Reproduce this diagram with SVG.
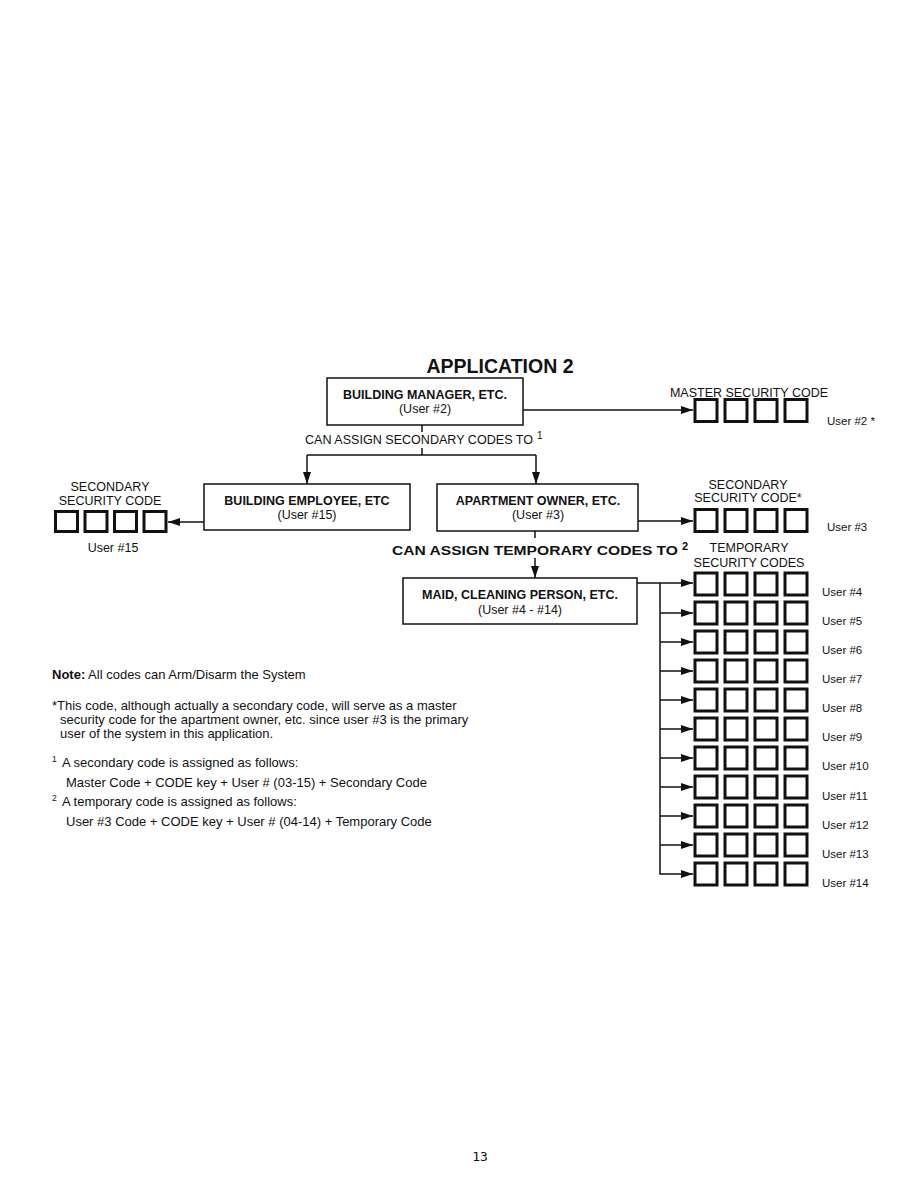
<svg xmlns="http://www.w3.org/2000/svg" width="918" height="1188" viewBox="0 0 918 1188">
<style>
text{font-family:"Liberation Sans",Arial,sans-serif;fill:#111}
.t{font-size:12.5px}
.n{font-size:13px}
.b{font-weight:bold}
.box{fill:#fff;stroke:#111;stroke-width:1.5}
.sq{fill:#fff;stroke:#111;stroke-width:3}
.ln{fill:none;stroke:#111;stroke-width:1.5}
.ar{fill:none;stroke:#111;stroke-width:1.5;marker-end:url(#ah)}
</style>
<defs>
<marker id="ah" markerUnits="userSpaceOnUse" markerWidth="12" markerHeight="8" refX="12" refY="4" orient="auto">
<path d="M0,0 L12,4 L0,8 z" fill="#111"/>
</marker>
<g id="code4">
<rect class="sq" x="0" y="0" width="22" height="22"/>
<rect class="sq" x="30" y="0" width="22" height="22"/>
<rect class="sq" x="60" y="0" width="22" height="22"/>
<rect class="sq" x="90" y="0" width="22" height="22"/>
</g>
</defs>
<rect width="918" height="1188" fill="#fff"/>

<text x="500" y="373" text-anchor="middle" class="b" style="font-size:19.5px">APPLICATION 2</text>

<g id="connectors">
<line class="ar" x1="523" y1="410" x2="693" y2="410"/>
<line class="ln" x1="422" y1="425" x2="422" y2="432"/>
<line class="ln" x1="422" y1="448" x2="422" y2="455"/>
<polyline class="ln" points="307,455 536,455"/>
<line class="ar" x1="307" y1="455" x2="307" y2="484"/>
<line class="ar" x1="536" y1="455" x2="536" y2="484"/>
<line class="ar" x1="204" y1="522" x2="168" y2="522"/>
<line class="ar" x1="638" y1="521" x2="693" y2="521"/>
<line class="ln" x1="535" y1="531" x2="535" y2="538"/>
<line class="ar" x1="535" y1="558" x2="535" y2="578"/>
<line class="ar" x1="637" y1="583" x2="693" y2="583"/>
<line class="ar" x1="660" y1="613" x2="693" y2="613"/>
<line class="ar" x1="660" y1="642" x2="693" y2="642"/>
<line class="ar" x1="660" y1="671" x2="693" y2="671"/>
<line class="ar" x1="660" y1="700" x2="693" y2="700"/>
<line class="ar" x1="660" y1="729" x2="693" y2="729"/>
<line class="ar" x1="660" y1="758" x2="693" y2="758"/>
<line class="ar" x1="660" y1="787" x2="693" y2="787"/>
<line class="ar" x1="660" y1="816" x2="693" y2="816"/>
<line class="ar" x1="660" y1="845" x2="693" y2="845"/>
<polyline class="ar" points="660,583 660,874 693,874"/>
</g>

<text x="305" y="444" class="t" textLength="228" lengthAdjust="spacingAndGlyphs">CAN ASSIGN SECONDARY CODES TO</text>
<text x="537" y="439" style="font-size:10px">1</text>
<text x="392" y="555" class="b" style="font-size:13.5px" textLength="286" lengthAdjust="spacingAndGlyphs">CAN ASSIGN TEMPORARY CODES TO</text>
<text x="682" y="550" style="font-size:11px" class="b">2</text>

<g id="manager">
<rect class="box" x="327" y="378" width="196" height="47"/>
<text x="425" y="399" text-anchor="middle" class="b t">BUILDING MANAGER, ETC.</text>
<text x="425" y="413" text-anchor="middle" class="t">(User #2)</text>
</g>

<g id="employee">
<rect class="box" x="204" y="484" width="206" height="46"/>
<text x="307" y="505" text-anchor="middle" class="b t">BUILDING EMPLOYEE, ETC</text>
<text x="307" y="519" text-anchor="middle" class="t">(User #15)</text>
</g>

<g id="owner">
<rect class="box" x="437" y="484" width="201" height="47"/>
<text x="538" y="505" text-anchor="middle" class="b t">APARTMENT OWNER, ETC.</text>
<text x="538" y="519" text-anchor="middle" class="t">(User #3)</text>
</g>

<g id="maid">
<rect class="box" x="403" y="578" width="234" height="46"/>
<text x="520" y="599" text-anchor="middle" class="b t">MAID, CLEANING PERSON, ETC.</text>
<text x="520" y="614" text-anchor="middle" class="t">(User #4 - #14)</text>
</g>

<g id="master-code">
<text x="749" y="397" text-anchor="middle" class="t">MASTER SECURITY CODE</text>
<use href="#code4" x="695" y="399.5"/>
<text x="827" y="425" style="font-size:11.5px">User #2 *</text>
</g>

<g id="secondary-code-15">
<text x="110" y="491" text-anchor="middle" class="t">SECONDARY</text>
<text x="110" y="505" text-anchor="middle" class="t">SECURITY CODE</text>
<rect class="sq" x="55.5" y="511.5" width="22" height="20"/>
<rect class="sq" x="85" y="511.5" width="22" height="20"/>
<rect class="sq" x="114.5" y="511.5" width="22" height="20"/>
<rect class="sq" x="144" y="511.5" width="22" height="20"/>
<text x="113" y="552" text-anchor="middle" class="t">User #15</text>
</g>

<g id="secondary-code-3">
<text x="748" y="489" text-anchor="middle" class="t">SECONDARY</text>
<text x="748" y="502" text-anchor="middle" class="t">SECURITY CODE*</text>
<use href="#code4" x="695" y="509.5"/>
<text x="827" y="531" style="font-size:11.5px">User #3</text>
</g>

<g id="temporary-codes">
<text x="749" y="552" text-anchor="middle" class="t">TEMPORARY</text>
<text x="749" y="567" text-anchor="middle" class="t">SECURITY CODES</text>
<use href="#code4" x="695" y="573"/>
<use href="#code4" x="695" y="602"/>
<use href="#code4" x="695" y="631"/>
<use href="#code4" x="695" y="660"/>
<use href="#code4" x="695" y="689"/>
<use href="#code4" x="695" y="718"/>
<use href="#code4" x="695" y="747"/>
<use href="#code4" x="695" y="776"/>
<use href="#code4" x="695" y="805"/>
<use href="#code4" x="695" y="834"/>
<use href="#code4" x="695" y="863"/>
<g style="font-size:11.5px">
<text x="822" y="596">User #4</text>
<text x="822" y="625">User #5</text>
<text x="822" y="654">User #6</text>
<text x="822" y="683">User #7</text>
<text x="822" y="712">User #8</text>
<text x="822" y="741">User #9</text>
<text x="822" y="770">User #10</text>
<text x="822" y="800">User #11</text>
<text x="822" y="829">User #12</text>
<text x="822" y="858">User #13</text>
<text x="822" y="887">User #14</text>
</g>
</g>

<g id="notes">
<text x="52" y="679" class="n"><tspan class="b">Note:</tspan> All codes can Arm/Disarm the System</text>
<text x="52" y="710" class="n">*This code, although actually a secondary code, will serve as a master</text>
<text x="60" y="724" class="n">security code for the apartment owner, etc. since user #3 is the primary</text>
<text x="60" y="738" class="n">user of the system in this application.</text>
<text x="52" y="762" style="font-size:8.5px">1</text>
<text x="62" y="767" class="n">A secondary code is assigned as follows:</text>
<text x="66" y="787" class="n">Master Code + CODE key + User # (03-15) + Secondary Code</text>
<text x="52" y="801" style="font-size:8.5px">2</text>
<text x="62" y="806" class="n">A temporary code is assigned as follows:</text>
<text x="66" y="826" class="n">User #3 Code + CODE key + User # (04-14) + Temporary Code</text>
</g>

<text x="480" y="1161" text-anchor="middle" style="font-family:'DejaVu Sans Mono',monospace;font-size:13px">13</text>
</svg>
